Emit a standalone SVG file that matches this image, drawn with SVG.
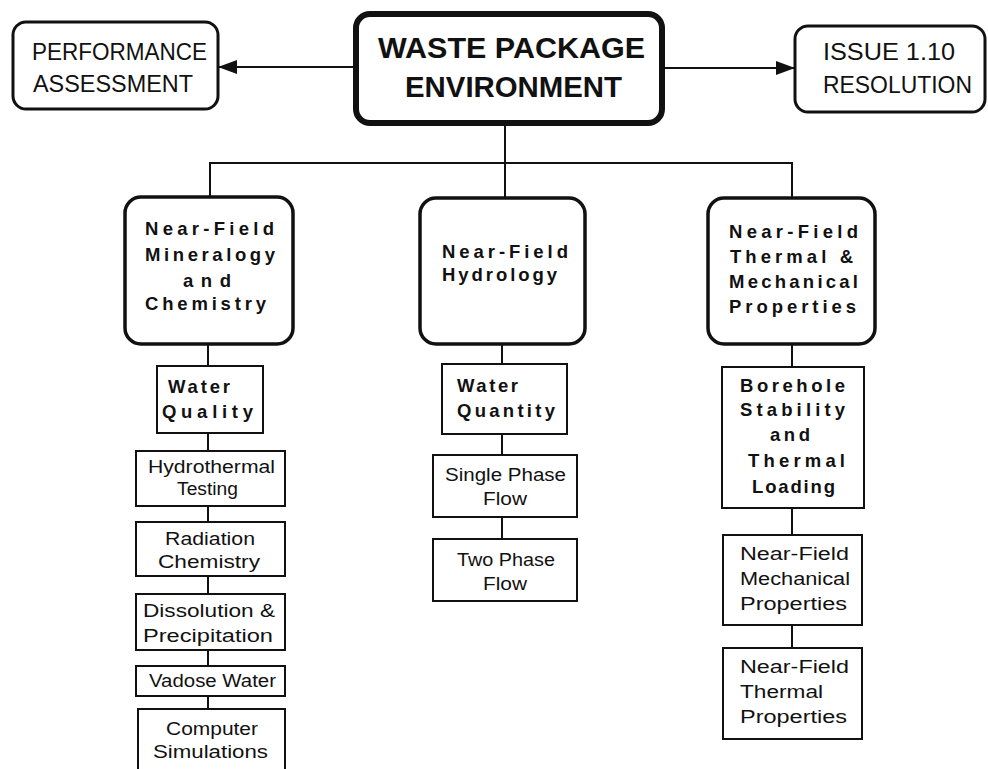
<svg xmlns="http://www.w3.org/2000/svg" width="988" height="769" viewBox="0 0 988 769">
<defs>
<marker id="arr" markerUnits="userSpaceOnUse" markerWidth="20" markerHeight="16" refX="19" refY="8" orient="auto">
<path d="M0,1 L19,8 L0,15 Z" fill="#111"/>
</marker>
<style>
.bg{fill:#fff}
.top{fill:#fff;stroke:#111;stroke-width:3}
.main{fill:#fff;stroke:#111;stroke-width:6}
.mid{fill:#fff;stroke:#111;stroke-width:3.5}
.sm{fill:#fff;stroke:#111;stroke-width:2}
.ln{fill:none;stroke:#111;stroke-width:2}
text{font-family:"Liberation Sans",Arial,sans-serif;fill:#111}
.t1{font-size:24px}
.t0{font-size:29px;font-weight:bold}
.tb{font-size:18.5px;font-weight:bold}
.tr{font-size:17.5px}
</style>
</defs>
<rect class="bg" x="0" y="0" width="988" height="769"/>
<g id="connectors">
<line class="ln" x1="356" y1="67" x2="218" y2="67" marker-end="url(#arr)"/>
<line class="ln" x1="662" y1="68" x2="795" y2="68" marker-end="url(#arr)"/>
<line class="ln" x1="505" y1="123" x2="505" y2="198"/>
<polyline class="ln" points="210,197 210,163 792,163 792,198"/>
<line class="ln" x1="208" y1="344" x2="208" y2="366"/>
<line class="ln" x1="208" y1="433" x2="208" y2="451"/>
<line class="ln" x1="208" y1="506" x2="208" y2="522"/>
<line class="ln" x1="208" y1="576" x2="208" y2="594"/>
<line class="ln" x1="208" y1="650" x2="208" y2="666"/>
<line class="ln" x1="208" y1="696" x2="208" y2="709"/>
<line class="ln" x1="502" y1="344" x2="502" y2="364"/>
<line class="ln" x1="502" y1="434" x2="502" y2="455"/>
<line class="ln" x1="502" y1="517" x2="502" y2="539"/>
<line class="ln" x1="792" y1="344" x2="792" y2="367"/>
<line class="ln" x1="792" y1="508" x2="792" y2="535"/>
<line class="ln" x1="792" y1="625" x2="792" y2="648"/>
</g>
<g id="performance">
<rect class="top" x="13" y="22" width="205" height="87" rx="13"/>
<text class="t1" x="32" y="60" textLength="175" lengthAdjust="spacingAndGlyphs">PERFORMANCE</text>
<text class="t1" x="33" y="92" textLength="160" lengthAdjust="spacingAndGlyphs">ASSESSMENT</text>
</g>
<g id="waste">
<rect class="main" x="356" y="14" width="306" height="109" rx="14"/>
<text class="t0" x="378" y="58" textLength="267" lengthAdjust="spacingAndGlyphs">WASTE PACKAGE</text>
<text class="t0" x="405" y="97" textLength="217" lengthAdjust="spacingAndGlyphs">ENVIRONMENT</text>
</g>
<g id="issue">
<rect class="top" x="795" y="26" width="190" height="86" rx="13"/>
<text class="t1" x="823" y="60" textLength="132" lengthAdjust="spacingAndGlyphs">ISSUE 1.10</text>
<text class="t1" x="823" y="93" textLength="149" lengthAdjust="spacingAndGlyphs">RESOLUTION</text>
</g>
<g id="mineralogy">
<rect class="mid" x="125" y="197" width="168" height="147" rx="16"/>
<text class="tb" x="145" y="235" textLength="129" lengthAdjust="spacing">Near-Field</text>
<text class="tb" x="145" y="261" textLength="130" lengthAdjust="spacing">Mineralogy</text>
<text class="tb" x="183" y="287" textLength="48" lengthAdjust="spacing">and</text>
<text class="tb" x="145" y="310" textLength="121" lengthAdjust="spacing">Chemistry</text>
</g>
<g id="water-quality">
<rect class="sm" x="157" y="366" width="106" height="67"/>
<text class="tb" x="168" y="393" textLength="62" lengthAdjust="spacing">Water</text>
<text class="tb" x="162" y="418" textLength="91" lengthAdjust="spacing">Quality</text>
</g>
<g id="hydrothermal">
<rect class="sm" x="136" y="451" width="149" height="55"/>
<text class="tr" x="148" y="473" textLength="127" lengthAdjust="spacingAndGlyphs">Hydrothermal</text>
<text class="tr" x="177" y="495" textLength="61" lengthAdjust="spacingAndGlyphs">Testing</text>
</g>
<g id="radiation">
<rect class="sm" x="136" y="522" width="149" height="54"/>
<text class="tr" x="165" y="545" textLength="90" lengthAdjust="spacingAndGlyphs">Radiation</text>
<text class="tr" x="158" y="568" textLength="102" lengthAdjust="spacingAndGlyphs">Chemistry</text>
</g>
<g id="dissolution">
<rect class="sm" x="136" y="594" width="149" height="56"/>
<text class="tr" x="143" y="617" textLength="132" lengthAdjust="spacingAndGlyphs">Dissolution &amp;</text>
<text class="tr" x="143" y="642" textLength="130" lengthAdjust="spacingAndGlyphs">Precipitation</text>
</g>
<g id="vadose">
<rect class="sm" x="136" y="666" width="149" height="30"/>
<text class="tr" x="149" y="687" textLength="127" lengthAdjust="spacingAndGlyphs">Vadose Water</text>
</g>
<g id="computer">
<rect class="sm" x="138" y="709" width="147" height="64"/>
<text class="tr" x="166" y="735" textLength="92" lengthAdjust="spacingAndGlyphs">Computer</text>
<text class="tr" x="153" y="758" textLength="115" lengthAdjust="spacingAndGlyphs">Simulations</text>
</g>
<g id="hydrology">
<rect class="mid" x="420" y="198" width="165" height="146" rx="16"/>
<text class="tb" x="442" y="258" textLength="126" lengthAdjust="spacing">Near-Field</text>
<text class="tb" x="442" y="281" textLength="115" lengthAdjust="spacing">Hydrology</text>
</g>
<g id="water-quantity">
<rect class="sm" x="442" y="364" width="125" height="70"/>
<text class="tb" x="457" y="392" textLength="61" lengthAdjust="spacing">Water</text>
<text class="tb" x="457" y="417" textLength="98" lengthAdjust="spacing">Quantity</text>
</g>
<g id="single-phase">
<rect class="sm" x="433" y="455" width="144" height="62"/>
<text class="tr" x="445" y="481" textLength="121" lengthAdjust="spacingAndGlyphs">Single Phase</text>
<text class="tr" x="483" y="505" textLength="44" lengthAdjust="spacingAndGlyphs">Flow</text>
</g>
<g id="two-phase">
<rect class="sm" x="433" y="539" width="144" height="62"/>
<text class="tr" x="457" y="566" textLength="98" lengthAdjust="spacingAndGlyphs">Two Phase</text>
<text class="tr" x="483" y="590" textLength="44" lengthAdjust="spacingAndGlyphs">Flow</text>
</g>
<g id="thermal-mechanical">
<rect class="mid" x="708" y="198" width="167" height="146" rx="16"/>
<text class="tb" x="729" y="238" textLength="129" lengthAdjust="spacing">Near-Field</text>
<text class="tb" x="730" y="263" textLength="123" lengthAdjust="spacing">Thermal  &amp;</text>
<text class="tb" x="729" y="288" textLength="129" lengthAdjust="spacing">Mechanical</text>
<text class="tb" x="729" y="313" textLength="127" lengthAdjust="spacing">Properties</text>
</g>
<g id="borehole">
<rect class="sm" x="722" y="367" width="142" height="141"/>
<text class="tb" x="740" y="392" textLength="105" lengthAdjust="spacing">Borehole</text>
<text class="tb" x="740" y="416" textLength="105" lengthAdjust="spacing">Stability</text>
<text class="tb" x="770" y="441" textLength="40" lengthAdjust="spacing">and</text>
<text class="tb" x="748" y="467" textLength="97" lengthAdjust="spacing">Thermal</text>
<text class="tb" x="752" y="493" textLength="83" lengthAdjust="spacing">Loading</text>
</g>
<g id="nf-mechanical">
<rect class="sm" x="723" y="535" width="139" height="90"/>
<text class="tr" x="740" y="560" textLength="109" lengthAdjust="spacingAndGlyphs">Near-Field</text>
<text class="tr" x="740" y="585" textLength="110" lengthAdjust="spacingAndGlyphs">Mechanical</text>
<text class="tr" x="740" y="610" textLength="107" lengthAdjust="spacingAndGlyphs">Properties</text>
</g>
<g id="nf-thermal">
<rect class="sm" x="723" y="648" width="139" height="91"/>
<text class="tr" x="740" y="673" textLength="109" lengthAdjust="spacingAndGlyphs">Near-Field</text>
<text class="tr" x="740" y="698" textLength="83" lengthAdjust="spacingAndGlyphs">Thermal</text>
<text class="tr" x="740" y="723" textLength="107" lengthAdjust="spacingAndGlyphs">Properties</text>
</g>
</svg>
